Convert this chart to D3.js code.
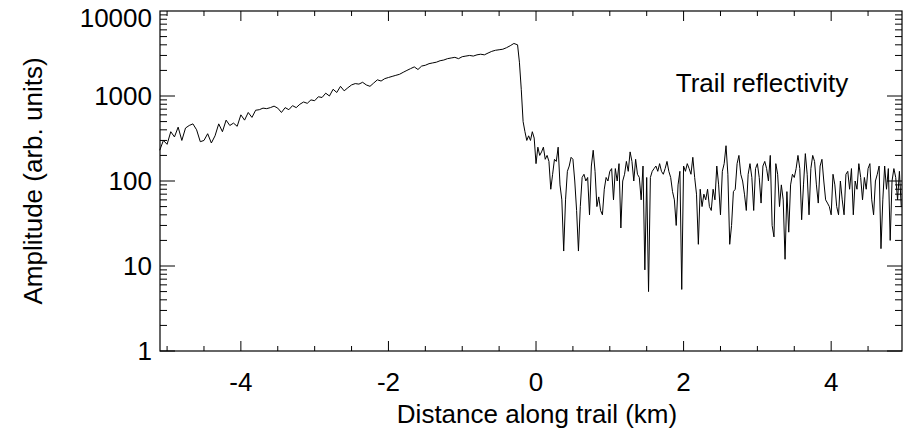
<!DOCTYPE html>
<html><head><meta charset="utf-8">
<script src="https://cdn.jsdelivr.net/npm/d3@7"></script>
<style>body{margin:0;background:#fff}text{font-family:"Liberation Sans",Arial,sans-serif}</style>
</head><body><svg id="c" width="903" height="432"></svg>
<script>
const xTicks=[-4,-2,0,2,4];
const yTicks=[1,10,100,1000,10000];
const leftStart=-5.1, leftStep=0.05;
const leftVals=[230,300,270,380,330,430,300,420,450,470,400,290,300,360,280,340,470,380,520,450,480,440,600,520,640,560,680,690,720,710,730,760,720,640,730,690,770,730,800,850,820,900,880,980,960,1080,1000,1200,1100,1300,1150,1250,1350,1400,1380,1450,1350,1300,1420,1550,1500,1600,1650,1700,1750,1800,1900,2000,2100,2200,2050,2250,2300,2400,2450,2500,2600,2650,2750,2800,2850,2750,2900,2950,3000,2950,3050,3100,3050,3200,3350,3450,3500,3550,3700,3900,4150];
const rightStart=-0.25, rightStep=0.025;
const rightVals=[4000,2500,1200,500,380,300,340,300,380,320,160,250,200,220,250,180,200,170,80,120,180,170,250,90,60,15,60,130,150,190,180,100,45,15,50,110,120,100,110,40,150,230,130,50,65,45,40,80,110,100,130,140,60,140,100,160,28,100,120,170,130,220,170,100,180,120,110,60,150,9,110,5,110,130,140,150,130,160,130,120,140,170,130,110,75,60,30,90,130,5.3,150,130,160,140,120,190,110,70,18,80,50,70,60,80,50,45,80,60,150,90,40,130,160,260,120,18,30,75,80,160,200,120,100,70,45,120,160,110,45,140,160,110,55,150,170,140,100,200,30,22,160,120,50,90,60,12,75,25,90,120,110,140,200,140,35,90,210,120,40,140,200,170,90,55,150,180,100,60,55,50,40,120,90,50,40,100,60,40,120,130,80,140,40,100,80,160,110,60,110,80,140,160,60,40,100,120,150,16,60,150,80,140,20,100,140,110,60,130,50,100,120];
const data=leftVals.map((v,i)=>[leftStart+i*leftStep,v]).concat(rightVals.map((v,i)=>[rightStart+i*rightStep,v]));

const L=160,R=902,T=11,B=351;
const svg=d3.select("#c");
const x=d3.scaleLinear().domain([-5.096,4.96]).range([L,R]);
const y=d3.scaleLog().domain([1,10000]).range([B,T]);
svg.append("path").datum(data.filter(d=>d[0]<=4.96)).attr("fill","none").attr("stroke","#000").attr("stroke-width",1)
  .attr("d",d3.line().x(d=>x(d[0])).y(d=>y(d[1])));
svg.append("rect").attr("x",L).attr("y",T).attr("width",R-L).attr("height",B-T).attr("fill","none").attr("stroke","#000").attr("stroke-width",1.2);
const g=svg.append("g").attr("stroke","#000").attr("stroke-width",1);
const xMinor=d3.range(-5,5.01,0.5);
xMinor.forEach(v=>{const major=Math.abs(v%2)<1e-9&&Number.isInteger(v);const len=major?10:5;
  g.append("line").attr("x1",x(v)).attr("x2",x(v)).attr("y1",B).attr("y2",B-len);
  g.append("line").attr("x1",x(v)).attr("x2",x(v)).attr("y1",T).attr("y2",T+len);});
for(let d=1;d<10000;d*=10){for(let k=1;k<10;k++){const v=d*k;const len=k===1?15:7;
  g.append("line").attr("x1",L).attr("x2",L+len).attr("y1",y(v)).attr("y2",y(v));
  g.append("line").attr("x1",R).attr("x2",R-len).attr("y1",y(v)).attr("y2",y(v));}}
const fs=26;
xTicks.forEach(v=>svg.append("text").attr("x",x(v)).attr("y",391).attr("text-anchor","middle").attr("font-size",fs).text(v<0?"-"+Math.abs(v):v));
yTicks.forEach(v=>svg.append("text").attr("x",152).attr("y",Math.max(y(v)+9,27)).attr("text-anchor","end").attr("font-size",fs).text(v));
svg.append("text").attr("x",537).attr("y",423).attr("text-anchor","middle").attr("font-size",fs).text("Distance along trail (km)");
svg.append("text").attr("transform","translate(42,181) rotate(-90)").attr("text-anchor","middle").attr("font-size",fs).text("Amplitude (arb. units)");
svg.append("text").attr("x",762).attr("y",92).attr("text-anchor","middle").attr("font-size",fs).text("Trail reflectivity");
</script></body></html>
